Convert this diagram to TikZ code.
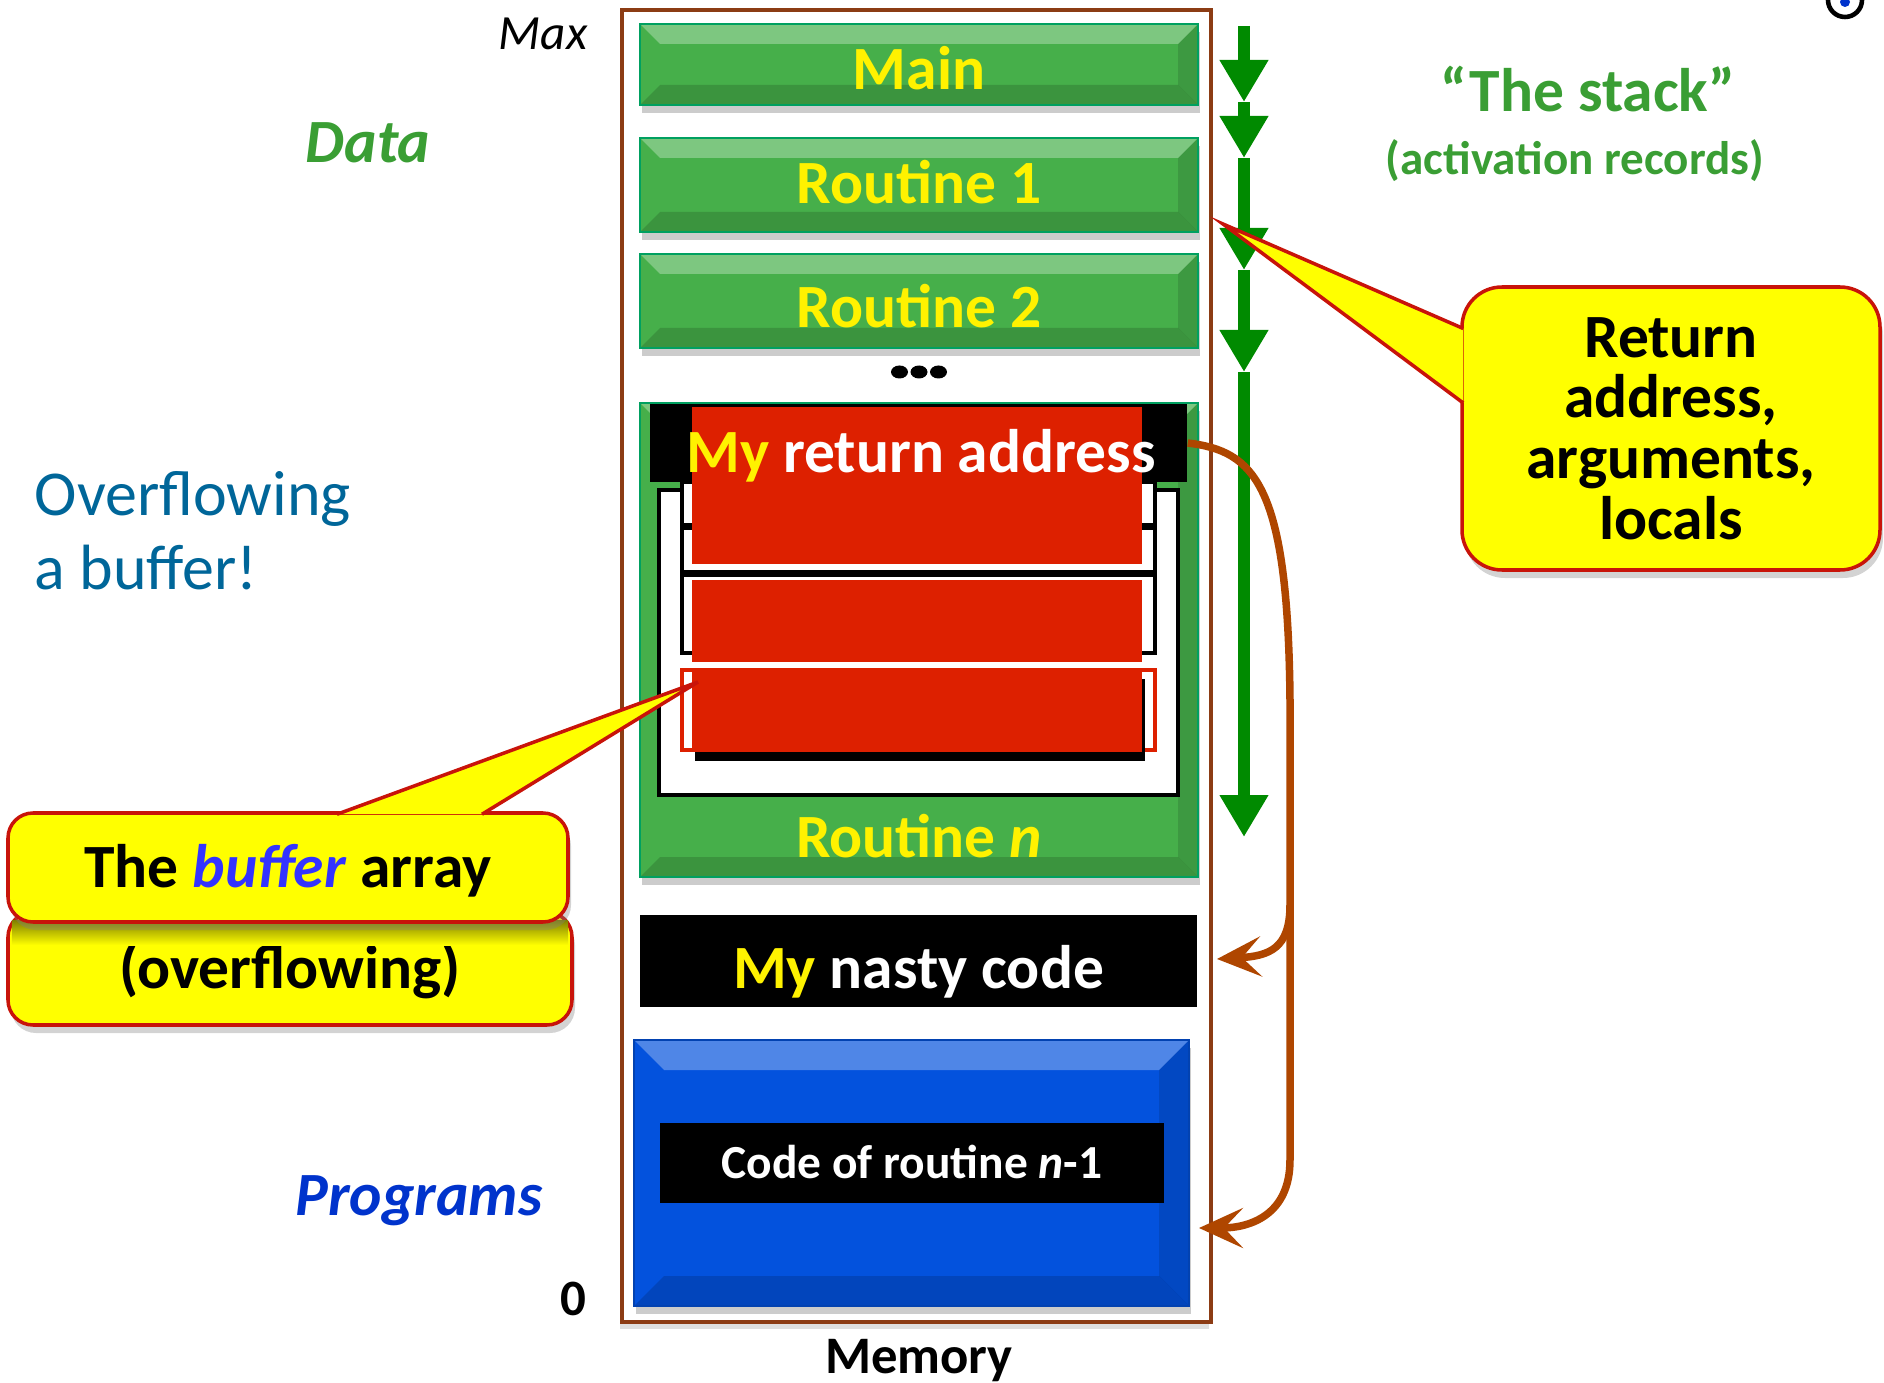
\documentclass[tikz,border=0pt]{standalone}
\usepackage{fontspec}
\setmainfont{Carlito}
\usepackage{tikz}
\usetikzlibrary{positioning,arrows.meta,shadows}
\definecolor{recgreen}{HTML}{46AF4A}
\definecolor{recedge}{HTML}{00A060}
\definecolor{stackgreen}{HTML}{008A00}
\definecolor{hotred}{HTML}{DD2000}
\definecolor{codeblue}{HTML}{0352DD}
\definecolor{progblue}{HTML}{0033CC}
\definecolor{memedge}{HTML}{8C3C14}
\definecolor{jump}{HTML}{AF4600}
\definecolor{noteyellow}{HTML}{FFFF00}
\definecolor{noteedge}{HTML}{C8140A}
\definecolor{labelgreen}{HTML}{3A9E34}
\definecolor{oflow}{HTML}{006699}
\definecolor{bufblue}{HTML}{3333FF}

\begin{document}
\begin{tikzpicture}[x=1cm, y=-1cm,
    bevel/.style={path picture={
      \fill[white, opacity=0.3] (path picture bounding box.north west) -- (path picture bounding box.north east)
        -- ([xshift=-#1,yshift=-#1]path picture bounding box.north east)
        -- ([xshift=#1,yshift=-#1]path picture bounding box.north west) -- cycle;
      \fill[black, opacity=0.15] (path picture bounding box.south west) -- (path picture bounding box.south east)
        -- ([xshift=-#1,yshift=#1]path picture bounding box.south east)
        -- ([xshift=#1,yshift=#1]path picture bounding box.south west) -- cycle;
      \fill[black, opacity=0.12] (path picture bounding box.north east) -- (path picture bounding box.south east)
        -- ([xshift=-#1,yshift=#1]path picture bounding box.south east)
        -- ([xshift=-#1,yshift=-#1]path picture bounding box.north east) -- cycle;}},
    cell/.style={minimum width=5.58cm, text height=0.38cm, text depth=0cm,
      font=\fontsize{17.5}{21}\selectfont\bfseries},
    rec/.style={cell, draw=recedge, line width=0.8pt, text=yellow, fill=recgreen, bevel=0.2cm,
      drop shadow={shadow xshift=0.02cm, shadow yshift=-0.08cm, opacity=0.4}},
    slot/.style={draw=black, line width=0.9pt, fill=white, minimum width=4.73cm},
    hot/.style={fill=hotred, minimum width=4.50cm},
    note/.style={draw=noteedge, line width=1pt, fill=noteyellow, align=center,
      font=\fontsize{17.5}{17.3}\selectfont\bfseries,
      drop shadow={shadow xshift=0.03cm, shadow yshift=-0.08cm, opacity=0.35}},
    pointer/.style={fill=noteyellow, draw=noteedge, line width=1pt},
    stackflow/.style={stackgreen, line width=0.12cm, -{Triangle[width=0.46cm, length=0.42cm]}},
    jumpline/.style={jump, line width=0.075cm, -{Stealth[length=0.44cm, width=0.40cm, inset=0.19cm]}},
    side/.style={font=\fontsize{17.5}{21}\selectfont\bfseries\itshape, anchor=base},
  ]
  \useasboundingbox (0,0) rectangle (18.84,13.83);

  % memory
  \node[draw=memedge, line width=1.2pt, fill=white, minimum width=5.89cm, minimum height=13.12cm,
    drop shadow={shadow xshift=-0.02cm, shadow yshift=-0.07cm, opacity=0.25}] (mem) at (9.165,6.66) {};
  \node[font=\fontsize{15}{18}\selectfont\bfseries, anchor=base] (memlbl) at (9.19,13.73) {Memory};
  \node[font=\fontsize{14}{16}\selectfont\itshape, anchor=base] (maxlbl) at (5.43,0.50) {Max};
  \node[font=\fontsize{14.5}{16}\selectfont\bfseries, anchor=base] (zerolbl) at (5.73,13.15) {0};

  % activation records
  \node[rec, minimum height=0.81cm, text height=0.51cm] (main) at (9.19,0.645) {Main};
  \node[rec, minimum height=0.94cm] (r1) at (9.19,1.85) {Routine 1};
  \node[rec, minimum height=0.94cm, text height=0.54cm] (r2) at (9.19,3.01) {Routine 2};
  \foreach \x in {8.995,9.19,9.385}
    \fill (\x,3.72) ellipse (0.085 and 0.065);
  \node[draw=recedge, line width=0.8pt, fill=recgreen, bevel=0.2cm, minimum width=5.58cm, minimum height=4.74cm,
    drop shadow={shadow xshift=0.02cm, shadow yshift=-0.08cm, opacity=0.4}] (rn) at (9.19,6.40) {};
  \node[cell, text=yellow] (rnname) at (9.19,8.38) {Routine \textit{n}};

  % the buffer
  \node[draw=black, line width=1.2pt, fill=white, minimum width=5.19cm, minimum height=3.05cm] (frame) at (9.185,6.425) {};
  \node[slot, minimum height=0.43cm] (s1) at (9.185,5.035) {};
  \node[slot, minimum height=0.44cm] (s2) at (9.185,5.50) {};
  \node[slot, minimum height=0.78cm] (s3) at (9.185,6.14) {};
  \node[slot, draw=hotred, minimum height=0.80cm] (s4) at (9.185,7.10) {};
  \node[hot, minimum height=0.82cm] (b2) at (9.17,6.21) {};
  \node[hot, minimum height=0.82cm,
    drop shadow={fill=black, opacity=1, shadow xshift=0.03cm, shadow yshift=-0.09cm}] (b3) at (9.17,7.11) {};
  \node[fill=black, minimum width=5.37cm, minimum height=0.78cm] (retbar) at (9.185,4.43) {};
  \node[hot, minimum height=1.57cm] (b1) at (9.17,4.855) {};
  \node[font=\fontsize{17.5}{21}\selectfont\bfseries, text=white, anchor=base] (retaddr) at (9.21,4.73)
    {\textcolor{yellow}{My} return address};

  % injected and program code
  \node[cell, fill=black, text=white, minimum width=5.57cm, minimum height=0.92cm, text height=0.54cm] (nasty)
    at (9.185,9.61) {\textcolor{yellow}{My} nasty code};
  \node[draw=codeblue!80!black, fill=codeblue, bevel=0.3cm, minimum width=5.55cm, minimum height=2.66cm,
    drop shadow={shadow xshift=0.02cm, shadow yshift=-0.08cm, opacity=0.4}] (prog) at (9.115,11.73) {};
  \node[fill=black, text=white, minimum width=5.04cm, minimum height=0.80cm, text height=0.30cm, text depth=0cm,
    font=\fontsize{13.5}{16}\selectfont\bfseries] (code) at (9.12,11.63) {Code of routine \textit{n}-1};

  % stack growth
  \coordinate (g0) at (12.44,0.26);
  \coordinate (g1) at (12.44,1.02);
  \coordinate (g2) at (12.44,1.58);
  \coordinate (g3) at (12.44,2.70);
  \coordinate (g4) at (12.44,3.72);
  \coordinate (g5) at (12.44,8.37);
  \foreach \a/\b in {g0/g1,g1/g2,g2/g3,g3/g4,g4/g5}
    \draw[stackflow] (\a) -- (\b);

  % where the return jumps
  \coordinate (fork) at (12.90,9.05);
  \coordinate (hit1) at (12.17,9.59);
  \coordinate (hit2) at (11.99,12.28);
  \draw[jumpline] (retbar.east) .. controls (12.55,4.51) and (12.88,4.85) .. (12.90,7.0)
    -- (fork) .. controls (12.90,9.48) and (12.70,9.56) .. (hit1);
  \draw[jumpline] (fork) -- (12.90,11.6) .. controls (12.90,12.15) and (12.50,12.28) .. (hit2);

  % callouts
  \coordinate (rettip) at (12.23,2.24);
  \coordinate (buftip) at (6.98,6.82);
  \node[note, rounded corners=0.4cm, minimum width=4.18cm, minimum height=2.83cm] (retnote)
    at (16.71,4.285) {Return\\address,\\arguments,\\locals};
  \path[pointer] ([xshift=0.03cm,yshift=1.0cm]retnote.west) -- (rettip)
    -- ([xshift=0.03cm,yshift=0.255cm]retnote.west);
  \node[note, rounded corners=0.25cm, minimum width=5.64cm, minimum height=1.13cm,
    text height=0.40cm, text depth=0cm] (bufmore) at (2.90,9.685) {(overflowing)};
  \shade[top color=noteyellow!50!black, bottom color=noteyellow] (0.12,9.20) rectangle (5.68,9.45);
  \node[note, rounded corners=0.25cm, minimum width=5.60cm, minimum height=1.09cm,
    text height=0.40cm, text depth=0cm] (bufnote) at (2.88,8.675)
    {The \textcolor{bufblue}{\textit{buffer}} array};
  \path[pointer] ([xshift=0.49cm,yshift=-0.03cm]bufnote.north) -- (buftip)
    -- ([xshift=1.94cm,yshift=-0.03cm]bufnote.north);

  % side labels
  \node[side, text=labelgreen] (datalbl) at (3.68,1.63) {Data};
  \node[side, text=progblue] (proglbl) at (4.19,12.15) {Programs};
  \node[font=\fontsize{17.5}{21}\selectfont\bfseries, text=labelgreen, anchor=base] (stacklbl)
    at (15.88,1.12) {“The stack”};
  \node[font=\fontsize{13.4}{16}\selectfont\bfseries, text=labelgreen, anchor=base] (actlbl)
    at (15.75,1.75) {(activation records)};
  \node[font=\fontsize{18.2}{21}\selectfont, text=oflow, align=left, anchor=north west, inner sep=0pt]
    (oflowlbl) at (0.34,4.71) {Overflowing\\a buffer!};

  % corner mark
  \draw[line width=1.3pt] (18.45,0.0) circle (0.17);
  \fill[progblue] (18.45,0.02) circle (0.05);
\end{tikzpicture}
\end{document}
